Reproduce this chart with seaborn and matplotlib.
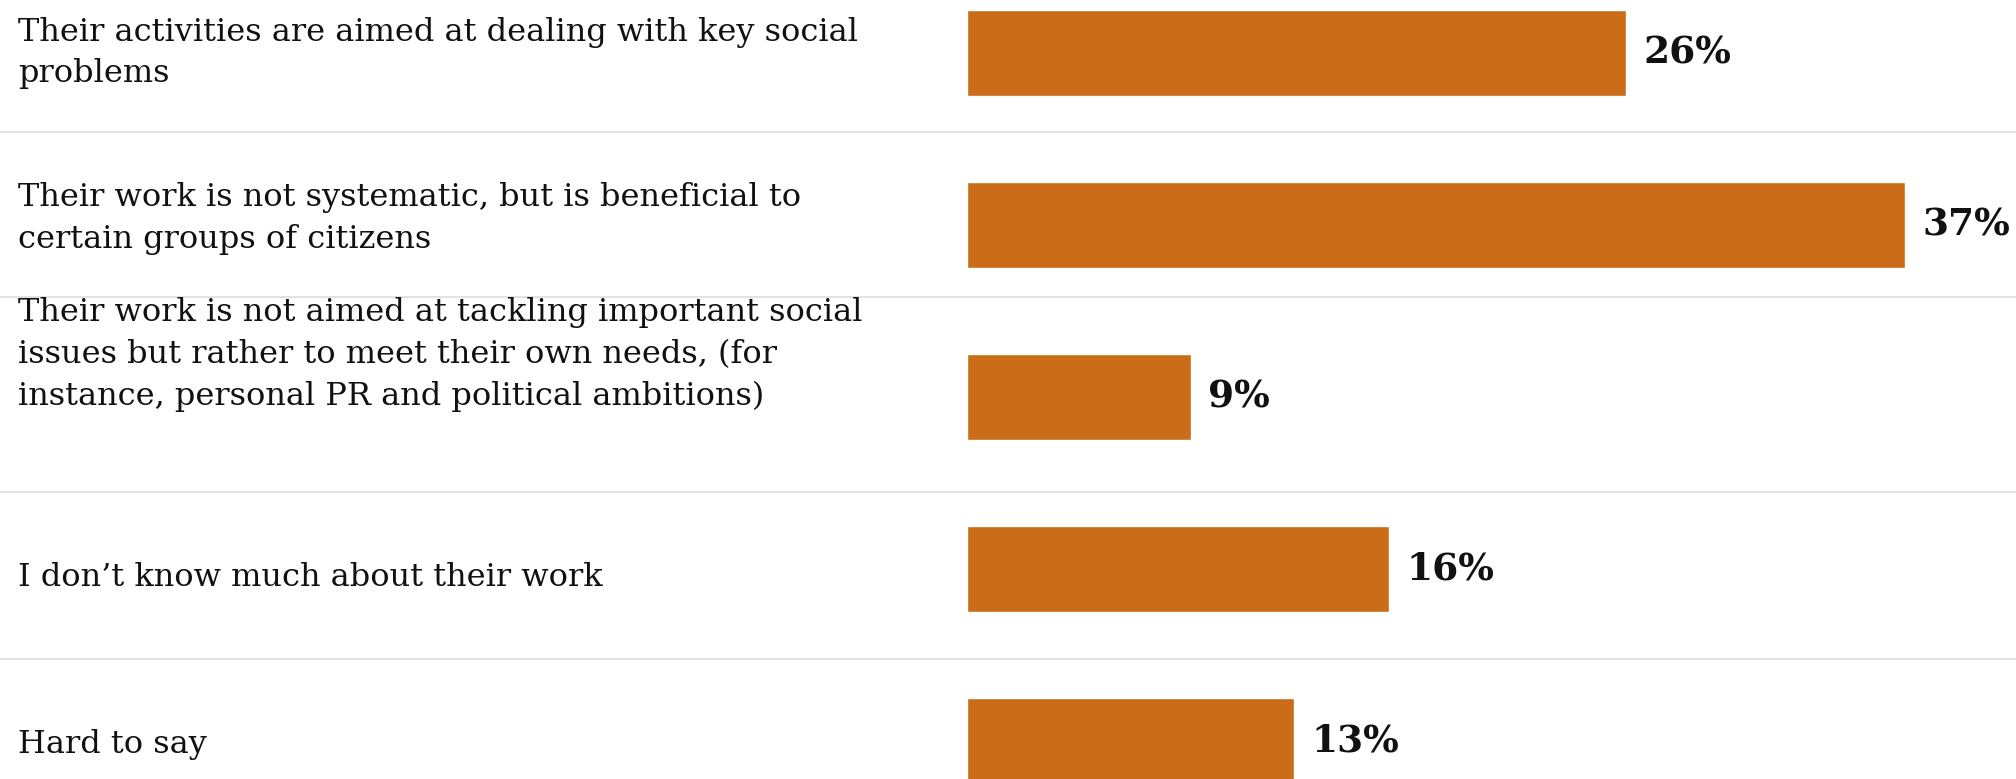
import numpy as np
import pandas as pd
import matplotlib
matplotlib.use('Agg')
import matplotlib.pyplot as plt
import matplotlib.transforms as mtransforms
import seaborn as sns

# answers as shown in the chart (wrapped like the original)
answers = [
    'Their activities are aimed at dealing with key social\nproblems',
    'Their work is not systematic, but is beneficial to\ncertain groups of citizens',
    'Their work is not aimed at tackling important social\nissues but rather to meet their own needs, (for\ninstance, personal PR and political ambitions)',
    'I don\u2019t know much about their work',
    'Hard to say',
]
# bar lengths (labels are the rounded values)
shares = [26.0, 37.0, 8.85, 16.65, 12.9]
value_labels = ['26%', '37%', '9%', '16%', '13%']

df = pd.DataFrame({'answer': answers, 'share': shares})

sns.set_theme(style='white')
plt.rcParams['font.family'] = ['DejaVu Serif']

fig = plt.figure(figsize=(20.16, 7.79), dpi=100)
ax = fig.add_axes([0, 0, 1, 1])

sns.barplot(data=df, x='share', y='answer', orient='h', color='#ca6c18',
            width=0.5, saturation=1, ax=ax)

# layout: x=0 sits at ~967px, one percent ~25.35px
ax.set_xlim(-38.15, 41.38)
ax.set_ylim(4.22, -0.308)
ax.axis('off')

# row separators
for sep in [0.46, 1.42, 2.55, 3.52]:
    ax.axhline(sep, color='#dddddd', lw=1.2, zorder=0)

# left-hand labels
trans = mtransforms.blended_transform_factory(ax.transAxes, ax.transData)
label_shift = [0, -0.04, -0.245, 0.05, 0.02]
for i, txt in enumerate(answers):
    ax.text(0.009, i + label_shift[i], txt, transform=trans, ha='left', va='center',
            fontsize=23, linespacing=1.45, color='#111111')

# value labels
for i, (v, lab) in enumerate(zip(shares, value_labels)):
    ax.text(v + 0.67, i, lab, ha='left', va='center', fontsize=27,
            fontweight='bold', color='#111111')

fig.savefig('out.png', dpi=100)
